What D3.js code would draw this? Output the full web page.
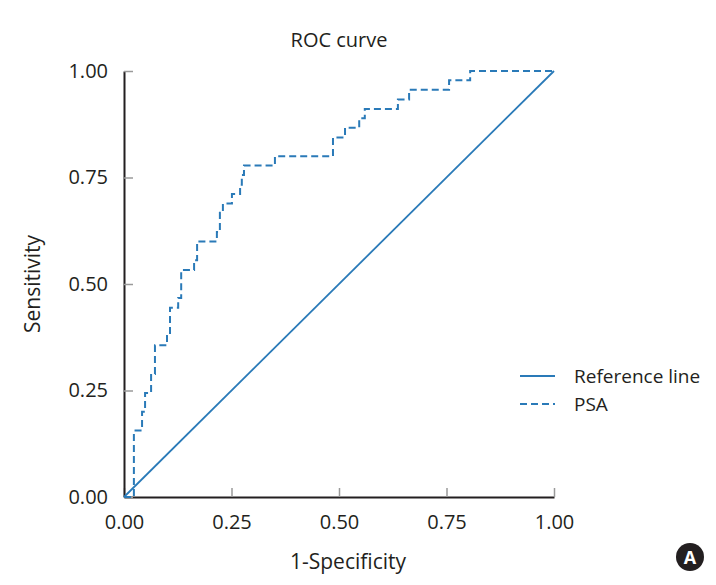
<!DOCTYPE html>
<html>
<head>
<meta charset="utf-8">
<script src="https://cdn.jsdelivr.net/npm/d3@7/dist/d3.min.js"></script>
<style>
  html, body { margin: 0; padding: 0; background: #fff; }
  svg { display: block; }
  text { font-family: "Open Sans", "Noto Sans", sans-serif; fill: #231f20; }
</style>
</head>
<body>
<svg id="chart" width="716" height="585"></svg>
<script>
// ---- data ----
const title = "ROC curve";
const xLabel = "1-Specificity";
const yLabel = "Sensitivity";
const tickValues = [0, 0.25, 0.5, 0.75, 1];
const tickLabels = ["0.00", "0.25", "0.50", "0.75", "1.00"];
const legendLabels = ["Reference line", "PSA"];
const refFpr = [0, 1];
const refTpr = [0, 1];
const psaFpr = [0, 0.023, 0.042, 0.049, 0.063, 0.072, 0.100, 0.107, 0.126, 0.133, 0.163, 0.170, 0.216, 0.223, 0.230, 0.251, 0.270, 0.274, 0.279, 0.351, 0.486, 0.514, 0.547, 0.560, 0.637, 0.663, 0.756, 0.805, 1.0];
const psaTpr = [0, 0.156, 0.200, 0.244, 0.289, 0.356, 0.378, 0.444, 0.467, 0.533, 0.556, 0.600, 0.622, 0.667, 0.689, 0.711, 0.733, 0.756, 0.778, 0.800, 0.844, 0.867, 0.889, 0.911, 0.933, 0.956, 0.978, 1.0, 1.0];
const panelLetter = "A";

// ---- layout ----
const svg = d3.select("#chart");
const lineColor = "#2a7ab8";
const x = d3.scaleLinear().domain([0, 1]).range([124, 554]);
const y = d3.scaleLinear().domain([0, 1]).range([497, 71]);

// title
svg.append("text").attr("x", 339).attr("y", 47).attr("text-anchor", "middle")
  .style("font-size", "20px").text(title);

// axes
const xAxis = d3.axisBottom(x).tickValues(tickValues).tickFormat((d, i) => tickLabels[i])
  .tickSizeInner(-9).tickSizeOuter(0).tickPadding(18);
const gx = svg.append("g").attr("transform", `translate(0,${y(0)})`).call(xAxis);
gx.select(".domain").attr("stroke", "#231f20").attr("stroke-width", 2);
gx.selectAll(".tick line").attr("stroke", "#9a9a9a").attr("stroke-width", 1.5);
gx.selectAll(".tick text").style("font-size", "20px").attr("fill", "#231f20");

const yAxis = d3.axisLeft(y).tickValues(tickValues).tickFormat((d, i) => tickLabels[i])
  .tickSizeInner(-9).tickSizeOuter(0).tickPadding(16);
const gy = svg.append("g").attr("transform", `translate(${x(0)},0)`).call(yAxis);
gy.select(".domain").attr("stroke", "#231f20").attr("stroke-width", 2);
gy.selectAll(".tick line").attr("stroke", "#9a9a9a").attr("stroke-width", 1.5);
gy.selectAll(".tick text").style("font-size", "20px").attr("fill", "#231f20");

// axis labels
svg.append("text").attr("x", 348).attr("y", 569).attr("text-anchor", "middle")
  .style("font-size", "21px").text(xLabel);
svg.append("text").attr("transform", "translate(40,284) rotate(-90)").attr("text-anchor", "middle")
  .style("font-size", "21px").text(yLabel);

// reference line
const lineLin = d3.line().x(d => x(d[0])).y(d => y(d[1]));
svg.append("path").datum(refFpr.map((v, i) => [v, refTpr[i]]))
  .attr("d", lineLin).attr("fill", "none").attr("stroke", lineColor).attr("stroke-width", 1.8);

// PSA step curve
const lineStep = d3.line().x(d => x(d[0])).y(d => y(d[1])).curve(d3.curveStepAfter);
svg.append("path").datum(psaFpr.map((v, i) => [v, psaTpr[i]]))
  .attr("d", lineStep).attr("fill", "none").attr("stroke", lineColor)
  .attr("stroke-width", 2).attr("stroke-dasharray", "7,4");

// legend
const lg = svg.append("g");
legendLabels.forEach((lab, i) => {
  const ly = 376 + i * 28;
  lg.append("line").attr("x1", 520).attr("x2", 555).attr("y1", ly).attr("y2", ly)
    .attr("stroke", lineColor).attr("stroke-width", 1.8)
    .attr("stroke-dasharray", i === 1 ? "7,4" : null);
  lg.append("text").attr("x", 574).attr("y", ly + 7).style("font-size", "19px").text(lab);
});

// panel letter
svg.append("circle").attr("cx", 690).attr("cy", 557).attr("r", 14).attr("fill", "#231f20");
svg.append("text").attr("x", 690).attr("y", 563.5).attr("text-anchor", "middle")
  .style("font-size", "18px").style("font-weight", "bold")
  .style("fill", "#fff").text(panelLetter);
</script>
</body>
</html>
